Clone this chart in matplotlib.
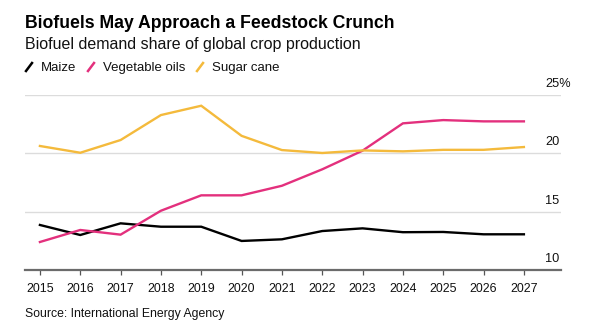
import matplotlib
matplotlib.use("Agg")
import matplotlib.pyplot as plt
from matplotlib.lines import Line2D
import matplotlib.transforms as mtransforms

plt.rcParams['font.family'] = ['Liberation Sans', 'DejaVu Sans']

years = list(range(2015, 2028))
maize = [13.86, 13.0, 14.0, 13.71, 13.71, 12.49, 12.63, 13.34, 13.57, 13.24, 13.26, 13.06, 13.06]
veg_oils = [12.4, 13.43, 13.03, 15.08, 16.4, 16.4, 17.22, 18.63, 20.23, 22.57, 22.85, 22.74, 22.74]
sugar_cane = [20.63, 20.05, 21.14, 23.28, 24.08, 21.5, 20.28, 20.03, 20.25, 20.17, 20.3, 20.3, 20.54]

series_names = ['Maize', 'Vegetable oils', 'Sugar cane']
colors = ['#000000', '#e3307d', '#f4ba3c']
y_ticks = [10, 15, 20, 25]
y_labels = ['10', '15', '20', '25%']

W, H = 600, 336
fig = plt.figure(figsize=(6, 3.36), dpi=100)
ax = fig.add_axes([25 / W, (H - 270) / H, 536 / W, 175 / H])

for vals, c in zip([maize, veg_oils, sugar_cane], colors):
    ax.plot(years, vals, color=c, lw=1.7, solid_joinstyle='miter', clip_on=False, zorder=3)

ax.set_xlim(2014.63, 2027.92)
ax.set_ylim(10, 25)

# light horizontal grid, labels sit on the right above each line
for t in y_ticks[1:]:
    ax.axhline(t, color='#dcdcdc', lw=1.0, zorder=1)
lab_tr = mtransforms.blended_transform_factory(ax.transAxes, ax.transData) + \
    mtransforms.ScaledTranslation(0, 5 / 100, fig.dpi_scale_trans)
for t, lab in zip(y_ticks, y_labels):
    ax.text(0.971, t, lab, transform=lab_tr, ha='left', va='bottom', fontsize=9.2, color='#111111')

ax.set_yticks([])
for s in ['top', 'right', 'left']:
    ax.spines[s].set_visible(False)
ax.spines['bottom'].set_color('#6b6b6b')
ax.spines['bottom'].set_linewidth(1.6)
ax.set_xticks(years)
ax.set_xticklabels([str(y) for y in years], fontsize=8.9, color='#111111')
ax.tick_params(axis='x', direction='out', length=3.4, width=0.9, color='#555555', pad=6)

fig.text(25 / W, 1 - 28 / H, 'Biofuels May Approach a Feedstock Crunch', fontsize=12.7,
         fontweight='bold', color='#000000', va='baseline')
fig.text(25 / W, 1 - 49 / H, 'Biofuel demand share of global crop production', fontsize=11.5,
         color='#111111', va='baseline')

# legend: short slanted strokes followed by names
leg_x = [25, 87, 196]
for x0, name, c in zip(leg_x, series_names, colors):
    fig.add_artist(Line2D([(x0 + 1) / W, (x0 + 7) / W], [1 - 71 / H, 1 - 63 / H],
                          color=c, lw=1.8, transform=fig.transFigure))
    fig.text((x0 + 16) / W, 1 - 71 / H, name, fontsize=9.5, color='#111111', va='baseline')

fig.text(25 / W, 1 - 317 / H, 'Source: International Energy Agency', fontsize=8.8,
         color='#111111', va='baseline')

fig.savefig('out.png', dpi=100, facecolor='white')
